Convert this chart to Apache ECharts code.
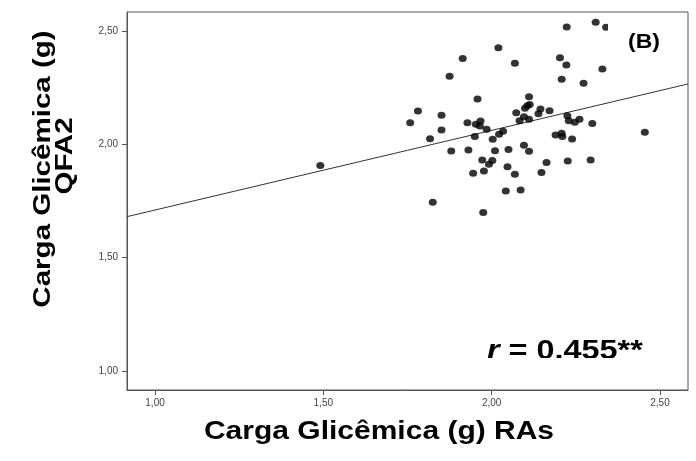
<!DOCTYPE html>
<html>
<head>
<meta charset="utf-8">
<script src="https://cdn.jsdelivr.net/npm/echarts@6/dist/echarts.min.js"></script>
<style>
  html,body{margin:0;padding:0;background:#fff}
  #chart{width:696px;height:461px}
</style>
</head>
<body>
<div id="chart"></div>
<script>
// Carga glicêmica: RAs (x) vs QFA2 (y)
const xVals=[2.223,2.309,2.340,2.020,1.914,2.069,2.203,2.222,2.329,1.875,2.208,2.273,1.958,2.111,
  1.781,1.851,1.758,1.928,1.953,1.967,1.965,1.985,1.851,1.817,1.950,2.003,2.022,2.034,
  2.106,2.113,2.099,2.073,2.145,2.139,2.172,2.096,2.083,2.111,2.225,2.229,2.247,2.261,2.299,
  2.190,2.208,2.210,2.239,2.455,1.880,1.931,2.010,2.050,2.096,2.111,1.972,2.002,1.992,2.047,
  1.945,1.977,2.069,2.163,2.148,2.226,2.294,2.042,2.086,1.825,1.975,1.491];
const yVals=[2.517,2.538,2.516,2.426,2.378,2.357,2.382,2.350,2.332,2.300,2.287,2.269,2.200,2.210,
  2.147,2.128,2.095,2.095,2.088,2.103,2.081,2.066,2.063,2.025,2.034,2.022,2.044,2.058,
  2.170,2.176,2.159,2.139,2.156,2.135,2.148,2.122,2.104,2.110,2.126,2.104,2.097,2.110,2.092,
  2.041,2.049,2.034,2.023,2.053,1.970,1.975,1.972,1.977,1.996,1.969,1.931,1.929,1.912,1.901,
  1.872,1.882,1.868,1.920,1.876,1.926,1.931,1.794,1.798,1.744,1.699,1.907];
const fitX=[0.9167,2.5833];
const fitY=[1.681,2.266];
const ticks=[1.00,1.50,2.00,2.50];

const FONT="'Liberation Sans', Arial, Helvetica, sans-serif";
const fmt=v=>v.toFixed(2).replace(".",",");

const chart=echarts.init(document.getElementById("chart"),null,{renderer:"canvas"});

const axisCommon={
  type:"value",
  min:0.9167,max:2.5833,
  splitLine:{show:false},
  axisLine:{show:true,lineStyle:{color:"#555",width:1}},
  axisTick:{show:true,length:5,lineStyle:{color:"#555"},customValues:ticks},
  axisLabel:{color:"#444",fontSize:10,fontFamily:FONT,formatter:fmt,customValues:ticks,showMinLabel:true,showMaxLabel:true}
};

chart.setOption({
  animation:false,
  backgroundColor:"#fff",
  grid:{left:127,top:12,right:8,bottom:71,show:true,borderColor:"#555",borderWidth:1,backgroundColor:"transparent"},
  xAxis:Object.assign({},axisCommon,{axisLabel:Object.assign({},axisCommon.axisLabel,{margin:8})}),
  yAxis:Object.assign({},axisCommon,{axisLabel:Object.assign({},axisCommon.axisLabel,{margin:9})}),
  series:[
    {
      type:"line",
      data:fitX.map((x,i)=>[x,fitY[i]]),
      symbol:"none",
      lineStyle:{color:"#333",width:1},
      z:1
    },
    {
      type:"scatter",
      data:xVals.map((x,i)=>[x,yVals[i]]),
      symbol:"circle",
      symbolSize:[8,7],
      itemStyle:{color:"#000"},
      z:2
    }
  ],
  graphic:[
    {type:"text",x:43,y:169,rotation:Math.PI/2,scaleX:1.23,z:100,
      style:{text:"Carga Glicêmica (g)",font:"bold 24px "+FONT,fill:"#000",textAlign:"center",textVerticalAlign:"middle"}},
    {type:"text",x:65,y:156,rotation:Math.PI/2,scaleX:1.23,z:100,
      style:{text:"QFA2",font:"bold 24px "+FONT,fill:"#000",textAlign:"center",textVerticalAlign:"middle"}},
    {type:"text",x:379,y:432,scaleX:1.2,z:100,
      style:{text:"Carga Glicêmica (g) RAs",font:"bold 25px "+FONT,fill:"#000",textAlign:"center",textVerticalAlign:"middle"}},
    {type:"rect",shape:{x:608,y:22,width:58,height:34},z:100,style:{fill:"#fff"}},
    {type:"text",x:644,y:42,scaleX:1.15,z:101,
      style:{text:"(B)",font:"bold 20px "+FONT,fill:"#000",textAlign:"center",textVerticalAlign:"middle"}},
    {type:"text",x:487,y:352,scaleX:1.2,z:100,
      style:{
        text:"{i|r} = 0.455**",
        font:"bold 27px "+FONT,fill:"#000",textAlign:"left",textVerticalAlign:"middle",
        rich:{i:{fontStyle:"italic",fontWeight:"bold",fontSize:27,fontFamily:FONT,fill:"#000"}}
      }},
    {type:"rect",shape:{x:470,y:358,width:200,height:14},z:102,style:{fill:"#fff"}}
  ]
});
</script>
</body>
</html>
